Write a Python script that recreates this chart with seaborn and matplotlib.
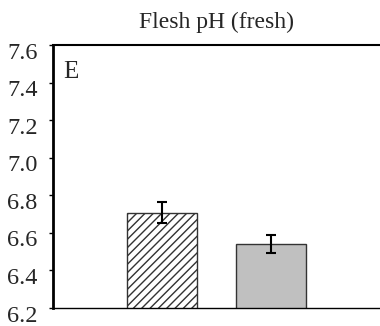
import matplotlib
matplotlib.use("Agg")
import matplotlib.pyplot as plt
import matplotlib.transforms as mtransforms
import seaborn as sns
import pandas as pd

groups = ["A", "B"]
means = [6.707, 6.541]
errors = [0.057, 0.05]
yticks = [6.2, 6.4, 6.6, 6.8, 7.0, 7.2, 7.4, 7.6]
title = "Flesh pH (fresh)"
panel = "E"

sns.set_theme(style="white")
plt.rcParams["font.family"] = ["Liberation Serif", "DejaVu Serif"]

fig = plt.figure(figsize=(3.8, 3.26), dpi=100)
ax = fig.add_axes([53/380, 1-308/326, (380-53)/380, (308-45)/326])

df = pd.DataFrame({"g": groups, "m": means})
sns.barplot(data=df, x="g", y="m", ax=ax, errorbar=None, width=0.64,
            palette=["white", "#c0c0c0"], hue="g", legend=False)
for i, p in enumerate(ax.patches):
    p.set_edgecolor("#333333")
    p.set_linewidth(1.0)
    if i == 0:
        p.set_hatch("////")
ax.errorbar(range(len(means)), means, yerr=errors, fmt="none", ecolor="black",
            elinewidth=1.5, capsize=3.5, capthick=1.5)

ax.set_xlim(-1, 2)
ax.set_ylim(6.2, 7.6)
ax.set_yticks(yticks)
ax.set_yticklabels([f"{v:.1f}" for v in yticks], fontsize=17.5)
ax.set_xticks([])
ax.set_xlabel("")
ax.set_ylabel("")
ax.spines["right"].set_visible(False)
for s in ["left", "bottom", "top"]:
    ax.spines[s].set_visible(True)
    ax.spines[s].set_color("black")
ax.spines["left"].set_linewidth(2.0)
ax.spines["bottom"].set_linewidth(1.0)
ax.spines["top"].set_linewidth(1.5)
ax.tick_params(axis="y", left=True, length=3, width=1, color="black", pad=8)
offset = mtransforms.ScaledTranslation(0, -5.5/100, fig.dpi_scale_trans)
for lab in ax.get_yticklabels():
    lab.set_transform(lab.get_transform() + offset)

ax.set_title(title, fontsize=17, pad=12)
ax.text(0.03, 0.94, panel, transform=ax.transAxes, fontsize=18, va="top", ha="left")

fig.savefig("out.png", dpi=100)
